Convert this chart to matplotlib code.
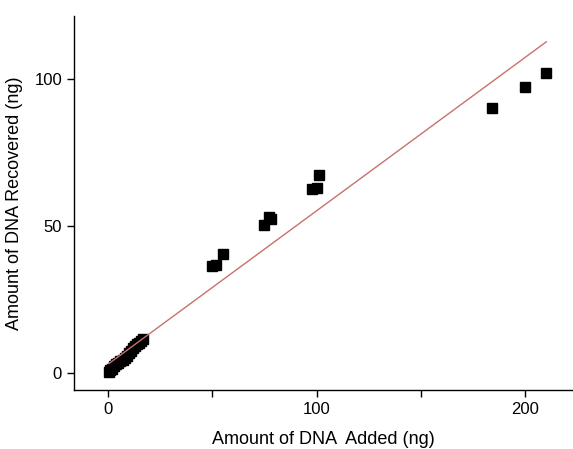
import numpy as np
import matplotlib.pyplot as plt

plt.rcParams['font.family'] = ['Liberation Sans', 'DejaVu Sans']

# Data (ng)
added = [0.5, 1, 2, 3, 4, 5, 6, 7, 8, 9, 10, 11, 12, 13, 14, 15, 16, 17,
         50, 52, 55, 75, 77, 78, 98, 100, 101, 184, 200, 210]
recovered = [0.5, 1.0, 1.5, 2.3, 3.0, 3.4, 4.0, 4.6, 5.2, 5.8, 6.8, 7.6, 8.4, 9.2, 9.8, 10.4, 11.0, 11.5,
             36.4, 36.8, 40.4, 50.5, 53.0, 52.5, 62.6, 62.8, 67.3, 90.2, 97.4, 101.9]

# Fit line as drawn
fit_x = [0.5, 210]
slope = 0.522
intercept = 3.0

fig = plt.figure(figsize=(5.73, 4.49), dpi=100)
ax = fig.add_axes([0.129, 0.131, 0.871, 0.834])

ax.plot(added, recovered, 's', color='black', markersize=6.5, zorder=2)
ax.plot(fit_x, [intercept + slope * v for v in fit_x], color='#c7716d', lw=1.0, zorder=3)

ax.set_xlim(-16.3, 222.8)
ax.set_ylim(-5.8, 121.5)
ax.set_xticks([0, 100, 200])
ax.set_xticks([50, 150], minor=True)
ax.set_yticks([0, 50, 100])

ax.spines['top'].set_visible(False)
ax.spines['right'].set_visible(False)
for s in ['left', 'bottom']:
    ax.spines[s].set_linewidth(1.0)
ax.tick_params(which='both', direction='out', length=5, width=1.0, labelsize=12)

ax.set_xlabel('Amount of DNA  Added (ng)', fontsize=13, labelpad=10)
ax.set_ylabel('Amount of DNA Recovered (ng)', fontsize=13, labelpad=8)

plt.savefig('out.png', dpi=100)
